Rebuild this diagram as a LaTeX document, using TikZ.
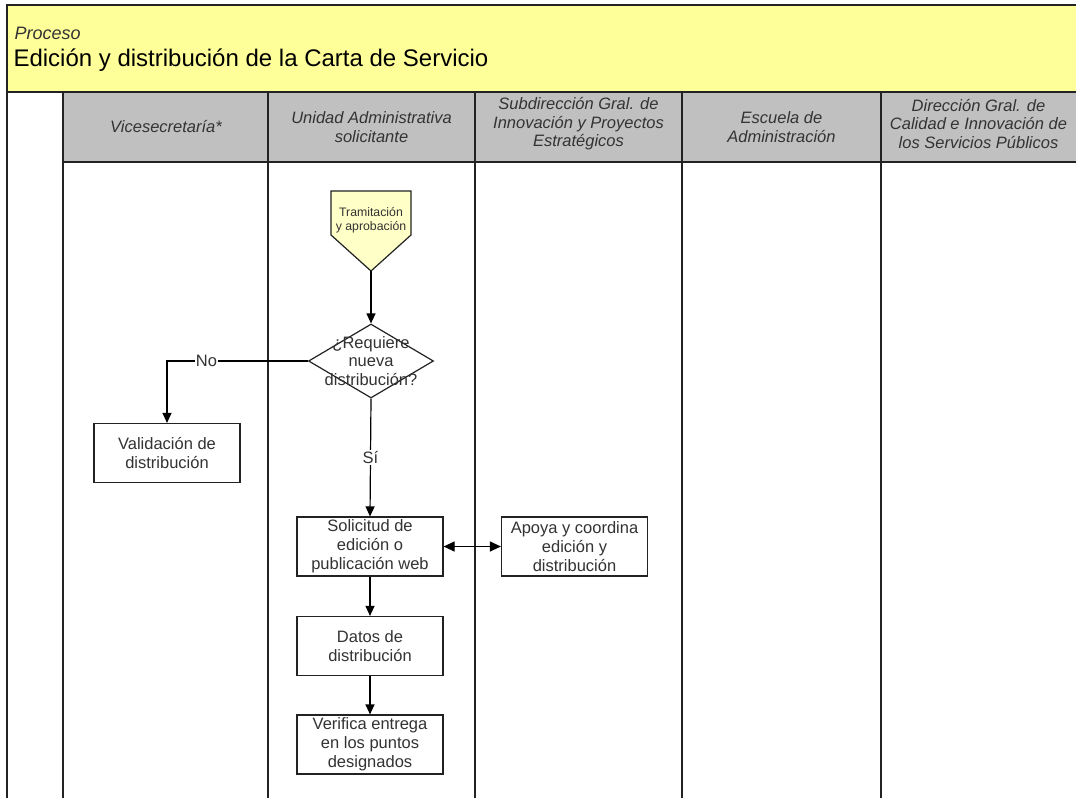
\documentclass[tikz,border=0pt]{standalone}
\usepackage{fontspec}
\setmainfont{Liberation Sans}
\usetikzlibrary{arrows.meta,shapes.geometric}
\definecolor{banner}{HTML}{FFFF99}
\definecolor{lanehead}{HTML}{C0C0C0}
\definecolor{offpage}{HTML}{FFFFC8}
\definecolor{rule}{HTML}{222222}
\definecolor{ink}{HTML}{333333}

\begin{document}
\begin{tikzpicture}[x=1pt,y=-1pt,
  box/.style={draw=rule, line width=1.2pt, fill=white, minimum width=146pt,
    minimum height=59pt, align=center, inner sep=0pt, text=ink,
    font=\fontsize{16.5}{19}\selectfont},
  lanetext/.style={align=center, text=ink,
    font=\fontsize{16.5}{18.5}\selectfont\itshape},
  flow/.style={draw=black, line width=1.2pt, -{Triangle[length=10pt,width=9pt]}},
  both/.style={draw=black, line width=1.2pt,
    {Triangle[length=11pt,width=10pt]}-{Triangle[length=11pt,width=10pt]}},
  lane/.style={draw=rule, line width=1.3pt},
  tag/.style={fill=white, inner sep=1pt, text=ink, font=\fontsize{16.5}{19}\selectfont}
]
\useasboundingbox (0,0) rectangle (1076,798);
\fill[white] (0,0) rectangle (1076,798);

% banner and lane headers
\fill[banner] (7,5) rectangle (1076,92);
\fill[lanehead] (63,92) rectangle (1076,162);
\draw[lane, line width=1.6pt] (1076,5) -- (7,5) -- (7,798);
\draw[lane] (7,92) -- (1076,92);
\draw[lane] (63,162) -- (1076,162);
\foreach \x in {63,268,475,682,881} \draw[lane] (\x,92) -- (\x,798);

\node[anchor=base west, text=ink, font=\fontsize{18}{20}\selectfont\itshape] (proc) at (11,39) {Proceso};
\node[anchor=base west, text=black, font=\fontsize{24}{26}\selectfont] (title) at (10,66) {Edición y distribución de la Carta de Servicio};

% lane titles
\node[lanetext] (l1) at (166,127) {Vicesecretaría*};
\node[lanetext] (l2) at (371.5,127) {Unidad Administrativa\\solicitante};
\node[lanetext] (l3) at (578.5,124) {Subdirección Gral. de\\Innovación y Proyectos\\Estratégicos};
\node[lanetext] (l4) at (781.5,127) {Escuela de\\Administración};
\node[lanetext] (l5) at (978.5,124) {Dirección Gral. de\\Calidad e Innovación de\\los Servicios Públicos};

% off-page start
\draw[draw=rule, line width=1.2pt, fill=offpage]
  (331,191) -- (411,191) -- (411,235) -- (371,271) -- (331,235) -- cycle;
\coordinate (tramtip) at (371,271);
\node[align=center, text=ink, font=\fontsize{12.3}{14.5}\selectfont] (tram) at (371,220) {Tramitación\\y aprobación};

% decision
\node[diamond, draw=rule, line width=1.2pt, fill=white, minimum width=125pt,
  minimum height=74pt, inner sep=0pt] (dec) at (371,361) {};
\node[align=center, text=ink, font=\fontsize{16.5}{18.5}\selectfont] (dectext) at (dec) {¿Requiere\\nueva\\distribución?};

% activities
\node[box] (valid) at (167,453) {Validación de\\distribución};
\node[box] (solic) at (370,546.5) {Solicitud de\\edición o\\publicación web};
\node[box] (apoya) at (574.5,546.5) {Apoya y coordina\\edición y\\distribución};
\node[box] (datos) at (370,646) {Datos de\\distribución};
\node[box] (verif) at (370,744.5) {Verifica entrega\\en los puntos\\designados};

% connectors
\draw[flow] (tramtip) -- (dec.north);
\draw[flow] (dec.west) -| node[tag, pos=0.36] (no) {No} (valid.north);
\draw[flow] (dec.south) -- node[tag, pos=0.5] (si) {Sí} (solic.north);
\draw[both] (solic.east) -- (apoya.west);
\draw[flow] (solic.south) -- (datos.north);
\draw[flow] (datos.south) -- (verif.north);
\end{tikzpicture}
\end{document}
